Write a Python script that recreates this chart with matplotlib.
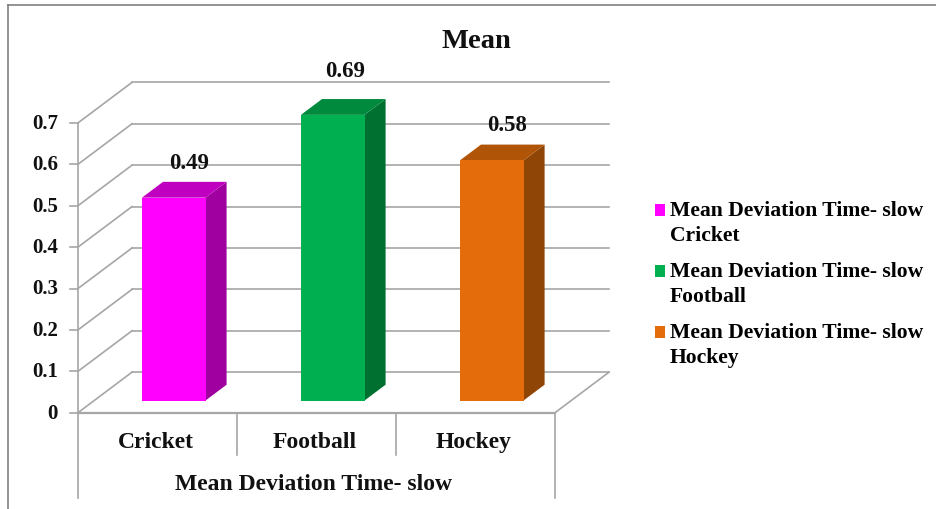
"""
Mean deviation of slow time per sport, drawn as a 3D-look column chart
"""
import matplotlib
matplotlib.use('Agg')
import matplotlib.pyplot as plt
from matplotlib.legend_handler import HandlerPatch
from matplotlib.patches import Patch, Polygon, Rectangle

# Chart data
categories = ['Cricket', 'Football', 'Hockey']
mean_values = [0.49, 0.69, 0.58]
y_ticks = [0, 0.1, 0.2, 0.3, 0.4, 0.5, 0.6, 0.7]
value_labels = ['0.49', '0.69', '0.58']
y_tick_labels = ['0', '0.1', '0.2', '0.3', '0.4', '0.5', '0.6', '0.7']
legend_labels = ['Mean Deviation Time- slow\nCricket',
                 'Mean Deviation Time- slow\nFootball',
                 'Mean Deviation Time- slow\nHockey']
group_label = 'Mean Deviation Time- slow'
chart_title = 'Mean'

# Face colours of each column
front_colors = ['#FF00FF', '#00B050', '#E46C0A']
top_colors = ['#C000C0', '#008A3E', '#B05508']
side_colors = ['#A000A0', '#007030', '#8F4506']

GRID = '#A6A6A6'
GRID_LW = 1.2

# Oblique projection: a full step in depth moves this far in x and y
DEPTH_X = 0.34
DEPTH_Y = 0.098
BAR_WIDTH = 0.40
BAR_DEPTH_START = 0.30
BAR_DEPTH_END = 0.69

# Label tweaks per column, in axis units
label_lift = [0.085, 0.107, 0.087]
label_shift = [0.094, 0.075, 0.094]


def project(x, y, depth=0.0):
    """Move a point on the front plane back by the given depth"""
    return x + depth * DEPTH_X, y + depth * DEPTH_Y


def first_line_swatch(legend, orig_handle, xdescent, ydescent, width, height, fontsize):
    """Legend swatch raised so it lines up with the first line of its label"""
    return Rectangle((-xdescent, -ydescent + 0.58 * fontsize), width, height)


def draw_walls(ax):
    """Draw the floor, left wall and gridlines"""
    n = len(categories)
    for tick in y_ticks:
        back_left = project(0, tick, 1)
        back_right = project(n, tick, 1)
        ax.plot([0, back_left[0]], [tick, back_left[1]], color=GRID, lw=GRID_LW, zorder=1)
        ax.plot([back_left[0], back_right[0]], [back_left[1], back_right[1]],
                color=GRID, lw=GRID_LW, zorder=1)
        ax.plot([-0.05, 0], [tick, tick], color=GRID, lw=GRID_LW, zorder=1)

    # Front floor edge and the right hand floor edge
    ax.plot([0, n], [0, 0], color=GRID, lw=1.6, zorder=1)
    right_back = project(n, 0, 1)
    ax.plot([n, right_back[0]], [0, right_back[1]], color=GRID, lw=GRID_LW, zorder=1)

    # Left wall upright
    ax.plot([0, 0], [-0.206, max(y_ticks)], color=GRID, lw=GRID_LW, zorder=1)
    ax.plot([n, n], [-0.206, 0], color=GRID, lw=GRID_LW, zorder=1)

    # Separators between the category labels
    for i in range(1, n):
        ax.plot([i, i], [-0.103, 0], color=GRID, lw=GRID_LW, zorder=1)


def draw_column(ax, i, value):
    """Draw the front, top and side faces of one column"""
    x0 = i + 0.5 - BAR_WIDTH / 2
    x1 = i + 0.5 + BAR_WIDTH / 2
    d0, d1 = BAR_DEPTH_START, BAR_DEPTH_END

    front = [project(x0, 0, d0), project(x1, 0, d0), project(x1, value, d0), project(x0, value, d0)]
    top = [project(x0, value, d0), project(x1, value, d0), project(x1, value, d1), project(x0, value, d1)]
    side = [project(x1, 0, d0), project(x1, 0, d1), project(x1, value, d1), project(x1, value, d0)]

    ax.add_patch(Polygon(side, closed=True, facecolor=side_colors[i], edgecolor='none', zorder=3))
    ax.add_patch(Polygon(top, closed=True, facecolor=top_colors[i], edgecolor='none', zorder=3))
    ax.add_patch(Polygon(front, closed=True, facecolor=front_colors[i], edgecolor='none', zorder=4))

    # Value label sits above the column top
    label_x, label_y = project(i + 0.5 + label_shift[i], value + label_lift[i], d0)
    ax.text(label_x, label_y, value_labels[i], ha='center', va='center',
            fontsize=16.5, fontweight='bold', color='#111111', zorder=5)


def main():
    plt.rcParams['font.family'] = ['Liberation Serif', 'DejaVu Serif']

    fig = plt.figure(figsize=(9.37, 5.10), dpi=100, facecolor='white')
    ax = fig.add_axes([0, 0, 1, 1])
    ax.set_xlim(-78 / 159, (937 - 78) / 159)
    ax.set_ylim(-96.3 / 414, 413.7 / 414)
    ax.axis('off')

    draw_walls(ax)
    for i, value in enumerate(mean_values):
        draw_column(ax, i, value)

    # Tick labels
    for tick, label in zip(y_ticks, y_tick_labels):
        ax.text(-0.125, tick, label, ha='right', va='center',
                fontsize=15, fontweight='bold', color='#111111')
    for i, name in enumerate(categories):
        ax.text(i + 0.49, -0.07, name, ha='center', va='center',
                fontsize=17, fontweight='bold', color='#111111')
    ax.text(1.48, -0.17, group_label, ha='center', va='center',
            fontsize=17, fontweight='bold', color='#111111')

    fig.text(476 / 937, 1 - 41 / 510, chart_title, ha='center', va='center',
             fontsize=20.5, fontweight='bold', color='#111111')

    # Legend on the right
    handles = [Patch(facecolor=c, edgecolor='none') for c in front_colors]
    legend = fig.legend(handles, legend_labels, loc='center left', bbox_to_anchor=(0.699, 0.442),
                        frameon=False, prop={'weight': 'bold', 'size': 15.6},
                        handlelength=0.46, handleheight=0.46, handletextpad=0.23,
                        labelspacing=0.72, borderpad=0, borderaxespad=0,
                        handler_map={Patch: HandlerPatch(patch_func=first_line_swatch)})
    for text in legend.get_texts():
        text.set_linespacing(1.36)

    # Thin border along the top and left of the chart area
    fig.add_artist(plt.Line2D([8 / 937, 8 / 937], [0, 1 - 6 / 510], color='#808080', lw=1.2))
    fig.add_artist(plt.Line2D([8 / 937, 1], [1 - 6 / 510, 1 - 6 / 510], color='#808080', lw=1.2))

    fig.savefig('out.png', dpi=100)


if __name__ == "__main__":
    main()
